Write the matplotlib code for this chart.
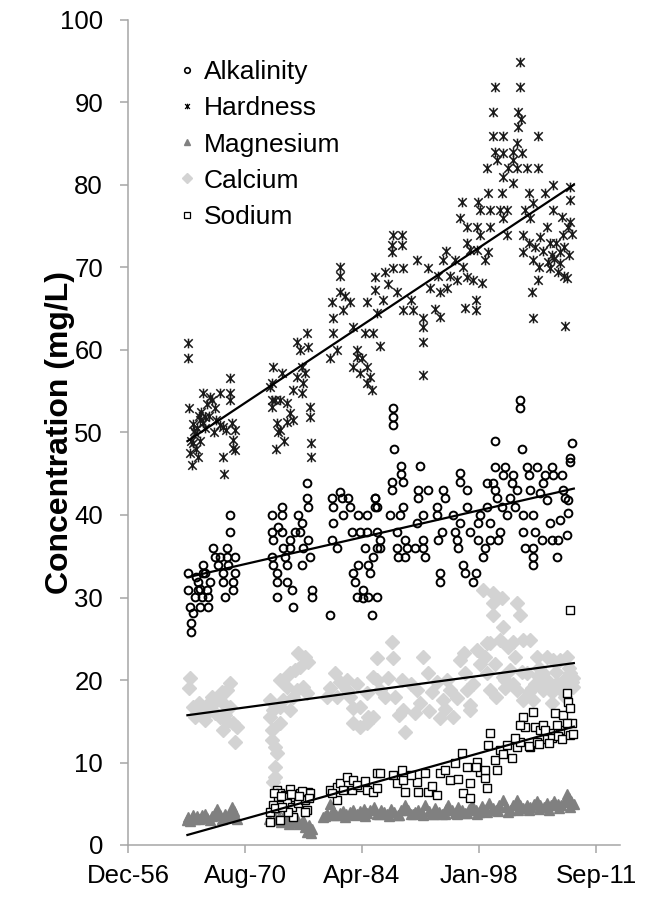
import matplotlib
matplotlib.use("Agg")
import matplotlib.pyplot as plt
from matplotlib.path import Path
from matplotlib.lines import Line2D
import numpy as np

plt.rcParams['font.family'] = ['Liberation Sans', 'DejaVu Sans']

# ---- data (decimal year, mg/L) ----
alk_year = [1964.0, 1964.0, 1964.2, 1964.3, 1964.3, 1964.6, 1964.8, 1965.1, 1965.1, 1965.4,
            1965.6, 1965.7, 1965.7, 1966.0, 1966.2, 1966.3, 1966.3, 1966.5, 1966.9, 1967.1,
            1967.5, 1967.7, 1968.1, 1968.1, 1968.3, 1968.5, 1968.5, 1968.7, 1968.9, 1968.9,
            1969.2, 1969.5, 1969.5, 1969.2, 1964.9, 1965.4,
            1973.8, 1973.8, 1973.9, 1973.8, 1973.9, 1974.4, 1974.4, 1974.4, 1975.0, 1975.0,
            1975.0, 1975.1, 1975.3, 1975.6, 1975.9, 1975.9, 1975.6, 1976.1, 1976.3, 1976.8,
            1977.1, 1977.3, 1977.4, 1977.3, 1977.9, 1977.9, 1978.0, 1978.0, 1978.2, 1978.5,
            1978.5, 1974.5, 1976.5,
            1980.6, 1980.8, 1980.9, 1980.9, 1980.8, 1981.4, 1981.8, 1982.0, 1982.1, 1982.7,
            1982.9, 1983.2, 1983.3, 1983.5, 1983.7, 1983.9, 1983.9, 1984.1, 1984.4, 1984.7,
            1984.9, 1985.0, 1985.0, 1985.5, 1985.8, 1986.1, 1986.1, 1986.1, 1986.1, 1985.6,
            1984.9, 1984.4, 1985.3, 1986.4, 1986.4, 1985.9, 1985.9,
            1987.6, 1987.8, 1987.8, 1987.9, 1987.9, 1987.9, 1988.1, 1988.4, 1988.4, 1988.5,
            1988.8, 1988.9, 1988.9, 1989.1, 1989.1, 1989.3, 1989.6, 1989.3, 1990.5, 1990.8,
            1990.9, 1990.9, 1991.1, 1991.4, 1991.5, 1991.5, 1991.7, 1992.0, 1993.1, 1993.1,
            1993.2, 1993.5, 1993.5, 1993.7, 1993.8, 1994.0, 1995.0, 1995.2, 1995.4, 1995.6,
            1995.8, 1995.8, 1995.8, 1996.1, 1996.4, 1996.6, 1996.6, 1996.9, 1997.3, 1997.6,
            1997.9, 1997.9, 1998.1, 1998.5, 1998.7, 1998.9, 1998.9, 1999.3, 1999.3, 1999.7,
            1999.9, 1999.9, 1999.9, 2000.1, 2000.2, 2000.5, 2000.7, 2000.8, 2001.1, 2001.3,
            2001.6, 2001.9, 2002.0, 2002.2, 2002.5, 2002.8, 2002.8, 2003.0, 2003.2, 2003.2,
            2003.4, 2003.6, 2003.8, 2004.0, 2004.3, 2004.3, 2004.3, 2004.3, 2004.6, 2004.8,
            2005.2, 2005.4, 2005.5, 2005.7, 2006.0, 2006.3, 2006.6, 2006.6, 2006.7, 2007.1,
            2007.3, 2007.5, 2007.7, 2007.8, 2008.1, 2008.3, 2008.4, 2008.4, 2008.7, 2008.7,
            2008.9]
alk_val = [33.0, 30.9, 28.9, 26.9, 25.8, 28.1, 30.1, 30.9, 31.9, 28.9,
           30.1, 33.9, 33.0, 33.0, 30.9, 30.1, 28.9, 31.9, 36.0, 34.9,
           33.9, 34.9, 33.0, 31.9, 30.1, 36.0, 34.9, 33.9, 40.0, 37.9,
           30.9, 34.9, 33.0, 31.9, 32.5, 31.0,
           40.0, 37.9, 37.0, 34.9, 33.9, 33.0, 31.9, 30.1, 41.0, 40.0,
           37.9, 36.0, 34.9, 33.9, 37.0, 36.0, 31.9, 30.9, 28.9, 40.0,
           37.9, 39.0, 36.0, 33.9, 43.9, 42.0, 41.0, 37.0, 34.9, 30.9,
           30.1, 38.5, 38.0,
           27.9, 42.0, 41.0, 39.0, 37.0, 36.0, 42.8, 42.0, 40.0, 42.0,
           41.0, 37.9, 33.0, 31.9, 30.1, 40.0, 33.9, 37.9, 30.9, 36.0,
           40.0, 33.9, 30.1, 27.9, 42.0, 41.0, 37.9, 36.0, 30.1, 34.9,
           37.9, 29.9, 33.0, 37.0, 36.0, 42.0, 41.0,
           40.0, 43.0, 44.0, 53.0, 51.9, 50.9, 48.0, 37.9, 36.0, 34.9,
           40.0, 45.9, 45.0, 44.0, 41.0, 37.0, 36.0, 34.9, 36.0, 39.0,
           43.0, 42.0, 45.9, 40.0, 37.0, 36.0, 34.9, 43.0, 41.0, 40.0,
           37.0, 33.0, 31.9, 37.9, 43.0, 42.0, 40.0, 37.9, 37.0, 36.0,
           39.0, 45.1, 44.0, 33.9, 33.0, 41.0, 43.0, 37.9, 31.9, 33.0,
           39.0, 37.0, 40.0, 34.9, 36.0, 41.0, 43.9, 39.0, 37.0, 43.9,
           45.8, 43.0, 49.0, 42.0, 37.0, 37.9, 41.0, 44.8, 45.8, 40.0,
           42.0, 43.9, 44.8, 41.0, 43.0, 53.9, 53.0, 48.0, 40.0, 37.9,
           36.0, 45.8, 44.8, 43.0, 40.0, 36.0, 34.9, 33.9, 37.9, 45.8,
           42.7, 37.0, 43.9, 44.8, 41.8, 39.0, 45.8, 37.0, 44.8, 34.9,
           37.0, 39.4, 44.8, 43.0, 42.0, 37.6, 40.2, 41.8, 46.4, 46.9,
           48.7]

hard_year = [1964.0, 1964.0, 1964.1, 1964.4, 1964.6, 1964.8, 1964.2, 1964.3, 1965.1, 1965.0,
             1965.4, 1965.7, 1965.7, 1966.0, 1966.2, 1966.5, 1966.8, 1967.1, 1967.7, 1967.7,
             1968.1, 1968.1, 1968.2, 1968.4, 1968.9, 1968.9, 1968.9, 1969.1, 1969.2, 1969.2,
             1969.5, 1969.5, 1964.9, 1964.7, 1965.4, 1965.5, 1966.4, 1967.3,
             1964.5, 1965.2, 1966.0, 1967.0,
             1973.8, 1973.9, 1973.8, 1973.8, 1974.2, 1973.6, 1974.4, 1974.5, 1974.7, 1974.7,
             1975.0, 1975.6, 1975.6, 1975.9, 1976.3, 1976.3, 1976.7, 1976.7, 1977.1, 1977.3,
             1977.3, 1977.4, 1977.7, 1977.9, 1978.0, 1978.2, 1978.2, 1978.4, 1978.4, 1975.2,
             1974.3,
             1980.6, 1980.8, 1980.9, 1980.9, 1981.4, 1981.8, 1981.8, 1981.8, 1982.1, 1982.3,
             1982.9, 1983.3, 1983.3, 1983.7, 1983.7, 1984.1, 1984.3, 1984.7, 1984.9, 1984.9,
             1984.9, 1985.3, 1985.5, 1985.6, 1985.8, 1985.8, 1986.1, 1986.4, 1987.0, 1987.4,
             1986.8,
             1987.8, 1987.8, 1987.9, 1987.9, 1988.4, 1989.0, 1989.0, 1989.1, 1989.1, 1990.3,
             1990.8, 1991.4, 1991.4, 1991.5, 1991.5, 1992.0, 1993.2, 1993.5, 1993.5, 1993.8,
             1990.0, 1992.3, 1992.9, 1994.3, 1994.6, 1994.1,
             1995.2, 1995.4, 1995.8, 1996.0, 1996.1, 1996.4, 1996.6, 1996.6, 1996.6, 1996.9,
             1997.3, 1997.6, 1997.6, 1997.8, 1997.8, 1997.9, 1998.1, 1998.1, 1998.4, 1998.7,
             1998.9, 1999.1, 1999.1, 1999.3, 1999.3, 1999.7, 1999.7, 1999.9, 1999.9, 2000.1,
             2000.5, 2000.7, 2000.8, 2000.8, 2000.8, 2000.8, 2001.3, 2001.3, 2001.4, 2002.0,
             2002.0, 2002.0, 2002.5, 2002.5, 2002.6, 2002.6, 2002.8, 2002.8, 2002.9, 2003.0,
             2003.2, 2003.2, 2003.4, 2003.6, 2003.8, 2004.0, 2004.2, 2004.3, 2004.3, 2004.3,
             2004.9, 2004.9, 2004.9, 2005.2, 2005.7, 2006.0, 2006.1, 2006.3, 2006.3, 2006.7,
             2006.7, 2007.3, 2007.5, 2007.5, 2007.7, 2007.8, 2008.1, 2008.3, 2008.4, 2008.7,
             2008.7, 2008.7, 2005.5, 2006.5, 2007.0, 2008.0, 2008.9,
             2005.0, 2006.8, 2007.9, 2008.5, 2004.6, 2003.8]
hard_val = [60.8, 59.0, 53.0, 46.0, 48.7, 49.9, 47.5, 49.0, 47.0, 50.5,
            51.5, 51.1, 54.8, 51.9, 53.5, 54.3, 53.9, 53.0, 54.8, 50.9,
            50.7, 47.0, 45.0, 50.3, 54.8, 53.9, 56.6, 51.1, 49.1, 48.1,
            50.3, 47.9, 48.0, 50.2, 49.0, 52.5, 52.0, 51.5,
            51.0, 52.0, 50.5, 50.0,
            56.0, 57.9, 53.9, 53.1, 53.9, 55.5, 51.2, 50.1, 53.9, 50.3,
            57.2, 53.6, 51.3, 52.4, 51.5, 55.2, 56.7, 61.0, 60.0, 57.9,
            54.8, 56.0, 57.2, 62.1, 60.4, 53.1, 51.9, 48.7, 47.0, 49.0,
            48.0,
            59.0, 65.8, 63.9, 62.0, 60.0, 70.0, 69.0, 67.0, 64.8, 66.5,
            65.8, 62.8, 57.9, 60.0, 59.2, 57.2, 59.0, 62.0, 65.8, 57.9,
            56.0, 56.7, 55.2, 62.0, 68.9, 67.3, 64.5, 60.5, 69.5, 68.0,
            66.0,
            72.7, 71.9, 73.9, 69.9, 67.0, 73.9, 72.7, 69.9, 64.8, 64.8,
            70.9, 63.9, 62.8, 61.0, 57.0, 69.9, 69.0, 67.0, 64.0, 70.9,
            66.0, 67.5, 65.0, 67.5, 69.0, 72.0,
            70.9, 68.5, 76.0, 77.9, 70.0, 65.1, 68.9, 73.0, 74.9, 72.1,
            68.5, 66.0, 64.8, 72.1, 74.9, 77.9, 73.9, 77.0, 68.1, 70.9,
            82.1, 71.9, 79.0, 77.0, 74.9, 88.8, 85.9, 91.9, 84.0, 83.0,
            77.0, 79.0, 85.9, 83.9, 81.0, 76.0, 73.9, 77.0, 82.1, 84.0,
            83.0, 80.2, 85.1, 82.1, 88.8, 87.0, 94.9, 91.9, 88.0, 83.9,
            73.9, 71.9, 77.0, 82.1, 79.0, 76.0, 67.0, 77.8, 70.9, 63.9,
            85.9, 82.1, 68.5, 73.7, 79.0, 74.9, 70.7, 73.0, 69.9, 80.0,
            77.0, 69.5, 71.9, 70.5, 76.1, 73.9, 62.9, 68.7, 74.9, 75.5,
            79.8, 78.2, 72.0, 71.5, 73.0, 72.5, 74.0,
            70.0, 71.0, 69.0, 71.5, 72.5, 73.0]

mg_year = [1963.9, 1964.0, 1964.2, 1964.4, 1964.6, 1964.8, 1965.0, 1965.3, 1965.6, 1965.9,
           1966.2, 1966.5, 1966.8, 1967.1, 1967.4, 1967.7, 1968.0, 1968.3, 1968.6, 1968.9,
           1969.1, 1969.3, 1969.5, 1969.7,
           1973.4, 1973.7, 1974.0, 1974.3, 1974.6, 1974.9, 1975.2, 1975.5, 1975.8, 1976.1,
           1976.4, 1976.7, 1977.0, 1977.4, 1977.7, 1977.9, 1978.1, 1978.3, 1978.5,
           1979.8, 1980.2, 1980.6, 1980.9, 1981.3, 1981.7, 1982.1, 1982.5, 1982.9, 1983.3,
           1983.7, 1984.1, 1984.5, 1984.9, 1985.3, 1985.7, 1986.1, 1986.5, 1986.9, 1987.3,
           1987.7, 1988.1, 1988.5, 1988.9, 1989.3, 1989.7, 1990.1, 1990.5, 1990.9, 1991.3,
           1991.7, 1992.1, 1992.5, 1992.9, 1993.3, 1993.7, 1994.1, 1994.4, 1994.8, 1995.2,
           1995.6, 1996.0, 1996.4, 1996.8, 1997.2, 1997.6, 1998.0, 1998.4, 1998.8, 1999.2,
           1999.6, 2000.0, 2000.4, 2000.8, 2001.2, 2001.6, 2002.0, 2002.4, 2002.8, 2003.2,
           2003.6, 2004.0, 2004.4, 2004.8, 2005.2, 2005.6, 2006.0, 2006.4, 2006.8, 2007.2,
           2007.6, 2008.0, 2008.3, 2008.5, 2008.8, 2009.1,
           1980.0, 1981.0, 1982.3, 1983.5, 1984.7, 1986.3, 1987.5, 1988.7, 1990.3, 1991.5,
           1992.7, 1994.0, 1995.4, 1996.6, 1997.8, 1999.0, 2000.2, 2001.4, 2002.6, 2003.8,
           2005.0, 2006.2, 2007.4, 2008.6]
mg_val = [3.0, 3.4, 2.9, 3.3, 3.6, 3.1, 3.5, 3.2, 3.6, 3.8,
          3.3, 3.0, 3.5, 3.9, 4.4, 3.6, 3.2, 3.7, 3.4, 3.9,
          4.6, 4.1, 3.5, 3.2,
          3.2, 4.2, 3.0, 4.5, 3.4, 2.8, 3.6, 3.0, 2.6, 3.3,
          2.8, 3.1, 2.5, 3.0, 2.2, 1.6, 2.4, 1.5, 2.0,
          3.4, 3.8, 5.0, 4.2, 3.6, 3.9, 4.1, 3.8, 4.0, 4.3,
          3.7, 4.1, 4.4, 3.9, 4.2, 4.6, 3.8, 4.3, 4.0, 3.7,
          4.4, 4.0, 3.6, 4.3, 4.9, 4.2, 3.8, 4.0, 4.3, 3.9,
          4.8, 4.1, 3.8, 4.5, 4.0, 3.7, 4.4, 4.8, 4.2, 3.9,
          4.6, 4.2, 3.9, 4.4, 4.9, 4.3, 4.0, 4.7, 4.4, 5.1,
          4.5, 4.2, 4.8, 5.4, 4.6, 4.3, 4.9, 5.5, 4.8, 4.5,
          4.9, 4.6, 5.0, 5.3, 4.8, 4.6, 5.1, 4.9, 5.3, 5.0,
          4.8, 5.2, 6.2, 5.7, 5.3, 5.0,
          3.5, 3.6, 3.4, 3.6, 3.5, 3.7, 3.5, 3.6, 3.7, 3.6,
          3.8, 3.7, 3.8, 3.9, 3.8, 4.0, 4.1, 4.0, 4.2, 4.3,
          4.4, 4.3, 4.5, 4.6]

ca_year = [1964.2, 1964.1, 1964.6, 1965.0, 1965.4, 1965.7, 1966.2, 1966.8, 1967.4, 1967.7,
           1968.1, 1968.1, 1968.5, 1968.9, 1968.9, 1969.2, 1969.5, 1969.7, 1968.5, 1964.8,
           1967.1, 1967.7, 1966.5, 1966.0, 1968.3, 1965.2, 1966.8, 1968.0,
           1973.6, 1973.6, 1973.8, 1973.8, 1974.2, 1974.4, 1974.2, 1974.2, 1973.9,
           1974.7, 1975.1, 1975.6, 1975.9, 1976.5, 1976.8, 1977.7, 1978.0, 1977.1, 1976.7,
           1977.4, 1977.9, 1976.3, 1975.1, 1974.7, 1975.9, 1974.7, 1973.9,
           1981.2, 1981.8, 1980.6, 1981.4, 1982.6, 1982.9, 1983.3, 1983.3, 1984.1, 1984.9,
           1985.6, 1986.1, 1985.6, 1984.9, 1980.2, 1984.1, 1982.6, 1986.4, 1986.1, 1983.7,
           1987.0, 1987.4, 1987.8, 1988.0, 1988.2, 1989.0, 1989.1, 1989.4, 1990.0, 1990.8,
           1991.1, 1991.5, 1992.0, 1992.5, 1993.1, 1993.5, 1993.8, 1994.3, 1994.6, 1995.0,
           1995.4, 1995.8, 1996.2, 1996.4, 1996.6, 1996.9, 1997.3, 1997.8, 1998.1, 1998.7,
           1998.9, 1998.9, 1999.3, 1999.3, 1998.5, 1999.7, 1999.7, 1999.7, 2000.7, 2000.8,
           2000.5, 2001.4, 2002.2, 2002.4, 2002.8, 2003.2, 2004.0, 2000.0, 2000.8, 2001.6,
           2002.5, 2003.6, 2004.8, 2005.5, 2006.7, 2007.1, 2008.3, 2008.7, 2009.0, 2005.5,
           2006.6, 2004.3, 2003.2, 2006.0, 2007.5, 2002.0, 2008.1, 2004.9, 1999.9, 2001.1,
           2001.0, 2002.0, 2003.0, 2004.5, 2005.0, 2006.0, 2007.0, 2007.8, 2008.5, 2009.0,
           2003.8, 2006.5, 2004.2, 2005.8, 2007.6, 2008.9, 2008.0,
           1985.0, 1990.5, 1994.0, 1997.0, 1988.6, 1992.2]
ca_val = [20.2, 19.0, 16.7, 16.0, 16.4, 16.6, 17.0, 17.3, 17.6, 17.9,
          17.2, 13.9, 18.8, 19.6, 16.7, 14.8, 12.5, 14.3, 14.9, 15.5,
          16.0, 15.5, 16.4, 15.2, 15.8, 17.2, 18.0, 18.5,
          17.6, 15.5, 13.9, 12.7, 11.9, 11.2, 9.5, 8.2, 7.6,
          20.0, 20.0, 19.2, 20.8, 21.2, 23.3, 22.8, 22.2, 21.6, 18.8,
          19.2, 18.4, 17.9, 17.6, 16.7, 16.4, 14.8, 16.4,
          20.8, 19.8, 19.0, 17.9, 18.8, 17.9, 16.6, 14.8, 16.7, 18.4,
          20.4, 22.7, 15.5, 14.8, 17.9, 14.3, 20.0, 18.8, 20.0, 19.5,
          18.0, 20.2, 24.6, 22.7, 17.9, 20.0, 16.4, 13.7, 19.5, 18.8,
          17.2, 22.8, 20.8, 18.5, 19.8, 15.4, 17.6, 20.0, 18.8, 15.5,
          17.8, 22.4, 23.3, 20.8, 18.8, 16.4, 19.5, 23.6, 22.0, 22.8,
          20.8, 24.5, 18.8, 24.5, 30.9, 30.5, 29.3, 27.9, 29.9, 26.4,
          24.8, 24.0, 22.8, 29.3, 27.9, 24.8, 24.8, 17.9, 20.4, 21.2,
          18.8, 20.8, 22.8, 20.8, 22.4, 19.6, 22.8, 20.8, 19.2, 18.8,
          17.2, 17.6, 17.6, 22.8, 22.4, 24.6, 18.0, 20.5, 22.0, 19.0,
          20.0, 19.5, 21.0, 19.5, 21.5, 20.0, 21.0, 19.5, 21.5, 20.2,
          18.5, 18.5, 19.0, 19.5, 18.8, 19.8, 20.0,
          15.5, 16.0, 16.5, 17.0, 15.8, 16.2]

na_year = [1974.4, 1974.5, 1973.9, 1973.6, 1973.6, 1974.2, 1974.7, 1975.3, 1975.6, 1976.1,
           1976.3, 1975.7, 1976.5, 1977.1, 1976.8, 1977.7, 1978.0, 1978.2, 1977.9, 1975.0,
           1974.7, 1977.7, 1974.0, 1975.9, 1977.3, 1974.9, 1976.0, 1977.0, 1978.1,
           1980.6, 1981.4, 1981.8, 1982.6, 1983.3, 1981.4, 1982.1, 1984.1, 1984.9, 1985.6,
           1986.1, 1980.8, 1983.2, 1986.4, 1986.1, 1983.7, 1984.7,
           1987.9, 1988.4, 1989.0, 1989.1, 1989.4, 1990.8, 1991.7, 1992.0, 1990.9, 1993.1,
           1993.5, 1994.0, 1994.6, 1995.2, 1996.0, 1996.1, 1996.9, 1996.9, 1996.6, 1997.8,
           1998.1, 1998.7, 1998.9, 1998.7, 1999.3, 1999.1, 2000.1, 1999.9, 2000.5, 2001.3,
           2001.9, 2002.5, 2002.8, 2003.2, 2003.4, 2004.0, 2004.3, 2004.6, 2005.2, 2005.5,
           2006.3, 2006.9, 2007.5, 2007.8, 2008.3, 2008.4, 2008.7, 2008.9, 2008.3, 2008.7,
           2002.8, 1990.0, 1992.5, 1995.6, 1997.6, 2000.8, 2002.2, 2005.7, 2007.1,
           2003.8, 2004.8, 2006.0, 2006.6, 2007.3,
           2005.0, 2006.2, 2007.7, 2008.6, 2009.0]
na_val = [6.7, 5.8, 4.8, 4.0, 2.8, 4.5, 6.3, 6.1, 5.1, 4.6,
          3.4, 4.0, 5.8, 6.3, 5.1, 5.5, 6.4, 6.3, 4.2, 4.6,
          3.0, 4.0, 6.3, 6.8, 6.6, 6.0, 6.2, 5.9, 5.7,
          6.7, 7.0, 7.5, 8.2, 7.9, 5.5, 6.7, 7.0, 6.7, 6.4,
          8.7, 6.3, 6.7, 8.7, 6.9, 7.3, 7.8,
          8.5, 7.5, 9.1, 7.9, 6.4, 7.6, 8.7, 6.4, 6.4, 6.1,
          8.7, 9.1, 7.9, 9.9, 11.2, 6.3, 5.7, 7.5, 9.5, 10.1,
          8.8, 8.1, 6.9, 9.1, 13.6, 12.1, 9.1, 10.3, 11.5, 12.1,
          10.5, 11.9, 12.5, 15.5, 14.3, 11.9, 16.1, 14.3, 13.9, 14.5,
          13.6, 16.0, 13.9, 15.8, 18.4, 17.3, 16.6, 14.8, 14.8, 28.5,
          14.5, 8.5, 7.2, 8.0, 9.5, 11.0, 13.0, 14.0, 14.5,
          12.0, 12.5, 12.8, 13.0, 13.2,
          12.2, 12.4, 12.9, 13.3, 13.5]

labels = ["Alkalinity", "Hardness", "Magnesium", "Calcium", "Sodium"]
tick_years = [1956.95, 1970.64, 1984.33, 1998.02, 2011.71]
tick_labels = ["Dec-56", "Aug-70", "Apr-84", "Jan-98", "Sep-11"]

# excel style asterisk marker: x with a vertical bar
star = Path([(-1, -1), (1, 1), (-1, 1), (1, -1), (0, -1.15), (0, 1.15)],
            [Path.MOVETO, Path.LINETO, Path.MOVETO, Path.LINETO, Path.MOVETO, Path.LINETO])

fig = plt.figure(figsize=(6.53, 9.01), dpi=100)
ax = fig.add_axes([128/653, 56/901, 492/653, 825/901])

ax.plot(alk_year, alk_val, ls="none", marker="o", ms=5.6, mfc="none", mec="black", mew=1.4, zorder=2)
ax.plot(hard_year, hard_val, ls="none", marker=star, ms=7, mfc="none", mec="#1a1a1a", mew=1.1, zorder=3)
ax.plot(mg_year, mg_val, ls="none", marker="^", ms=6.8, color="#808080", mec="#808080", zorder=4)
ax.plot(ca_year, ca_val, ls="none", marker="D", ms=7.6, color="#d3d3d3", mec="#d3d3d3", zorder=5)
ax.plot(na_year, na_val, ls="none", marker="s", ms=6.0, mfc="white", mec="black", mew=1.0, zorder=6)

# linear trend lines across the sampled date range
all_years = alk_year + hard_year + mg_year + ca_year + na_year
xs = np.array([min(all_years), max(all_years)])
for yr, vals in [(hard_year, hard_val), (alk_year, alk_val), (ca_year, ca_val), (na_year, na_val)]:
    k, b = np.polyfit(yr, vals, 1)
    ax.plot(xs, k * xs + b, color="black", lw=1.6, zorder=7)

ax.set_xlim(1956.95, 2014.5)
ax.set_ylim(0, 100)
ax.set_yticks(np.arange(0, 101, 10))
ax.set_xticks(tick_years)
ax.set_xticklabels(tick_labels)
ax.tick_params(axis="both", labelsize=18.5, color="#a6a6a6", length=6, width=1.1, direction="out")
ax.tick_params(axis="x", pad=8)
ax.tick_params(axis="y", pad=12)
for s in ["top", "right"]:
    ax.spines[s].set_visible(False)
for s in ["left", "bottom"]:
    ax.spines[s].set_color("#a6a6a6")
    ax.spines[s].set_linewidth(1.1)
ax.set_ylabel("Concentration (mg/L)", fontsize=23, fontweight="bold")
ax.yaxis.set_label_coords(-0.107, 0.5)

handles = [
    Line2D([], [], ls="none", marker="o", ms=4, mfc="none", mec="black", mew=1.2),
    Line2D([], [], ls="none", marker=star, ms=4, mfc="none", mec="black", mew=0.9),
    Line2D([], [], ls="none", marker="^", ms=4.5, color="#808080"),
    Line2D([], [], ls="none", marker="D", ms=5, color="#d3d3d3"),
    Line2D([], [], ls="none", marker="s", ms=4.5, mfc="white", mec="black", mew=0.9),
]
ax.legend(handles, labels, loc="upper left", bbox_to_anchor=(0.085, 0.964), frameon=False,
          fontsize=19, handlelength=0.5, handletextpad=0.38, labelspacing=0.46, borderaxespad=0)

fig.savefig("out.png", dpi=100)
